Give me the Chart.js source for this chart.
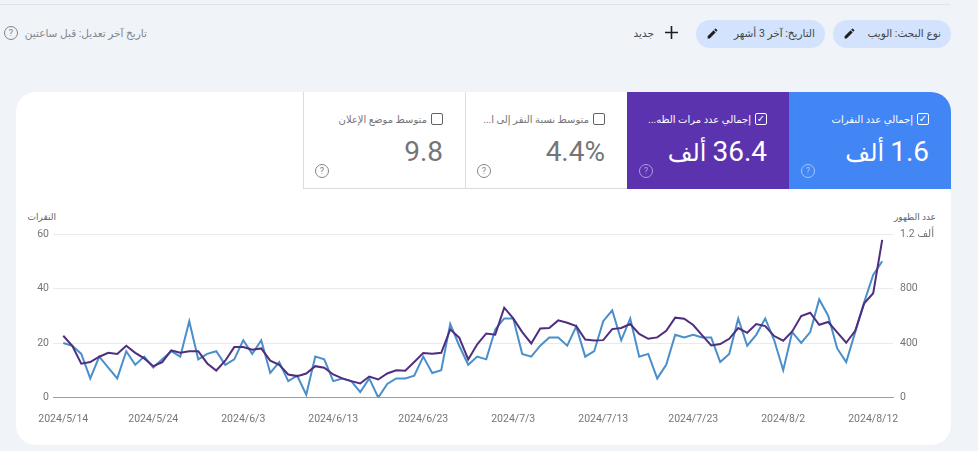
<!DOCTYPE html>
<html lang="ar">
<head>
<meta charset="utf-8">
<title>Search Console</title>
<script src="https://cdn.jsdelivr.net/npm/chart.js@4"></script>
<style>
    html, body { margin: 0; padding: 0; width: 978px; height: 451px; overflow: hidden; background: #f0f3f8; font-family: Roboto, "DejaVu Sans", sans-serif; }
    .abs { position: absolute; white-space: nowrap; }
    .rtl { direction: rtl; text-align: right; }
    #topline { left: 0; top: 4px; width: 950px; height: 1px; background: #dfe2e7; }
    #panel { left: 16px; top: 92px; width: 935px; height: 353px; background: #fff; border-radius: 20px; }
    .chip { top: 20px; height: 28px; background: #d3e3fd; border-radius: 14px; }
    .chipText { top: 26px; font-size: 10.5px; line-height: 15px; color: #444746; }
    .card { top: 92px; height: 97px; box-sizing: border-box; }
    .cardLabel { top: 112px; font-size: 10px; line-height: 15px; }
    .cardValue { top: 134px; font-size: 28px; line-height: 36px; }
    .cardValue span { font-size: 24px; }
    .check { top: 113px; width: 12px; height: 12px; box-sizing: border-box; border-radius: 2px; }
    .help { width: 14px; height: 14px; box-sizing: border-box; border-radius: 50%; border: 1.2px solid; font-size: 9px; line-height: 12px; text-align: center; }
    .axisTitle { top: 211px; font-size: 9px; line-height: 13px; color: #5f6368; }
    #wrap { left: 0; top: 200px; width: 978px; height: 240px; }
</style>
</head>
<body>
<div class="abs" id="topline"></div>

<div class="abs help" style="left:4px;top:26px;color:#80868b">?</div>
<div class="abs rtl" style="right:831px;top:26px;font-size:10.5px;line-height:15px;color:#80868b">تاريخ آخر تعديل: قبل ساعتين</div>

<div class="abs chip" style="left:833px;width:118px"></div>
<div class="abs chipText rtl" style="right:37px">نوع البحث: الويب</div>
<svg class="abs" style="left:843px;top:27px" width="13" height="13" viewBox="0 0 24 24"><path fill="#1f1f1f" d="M3 17.25V21h3.75L17.8 9.94l-3.75-3.75L3 17.25zM20.7 7.04a1 1 0 0 0 0-1.41l-2.34-2.34a1 1 0 0 0-1.41 0l-1.83 1.83 3.75 3.75 1.83-1.83z"/></svg>
<div class="abs chip" style="left:696px;width:129px"></div>
<div class="abs chipText rtl" style="right:163px">التاريخ: آخر 3 أشهر</div>
<svg class="abs" style="left:706px;top:27px" width="13" height="13" viewBox="0 0 24 24"><path fill="#1f1f1f" d="M3 17.25V21h3.75L17.8 9.94l-3.75-3.75L3 17.25zM20.7 7.04a1 1 0 0 0 0-1.41l-2.34-2.34a1 1 0 0 0-1.41 0l-1.83 1.83 3.75 3.75 1.83-1.83z"/></svg>
<svg class="abs" style="left:664px;top:25px" width="15" height="15" viewBox="0 0 15 15"><path stroke="#1f1f1f" stroke-width="1.6" d="M7.5 1v13M1 7.5h13"/></svg>
<div class="abs chipText rtl" style="right:324px">جديد</div>

<div class="abs" id="panel"></div>

<div class="abs card" style="left:789px;width:162px;background:#4285f4;border-top-right-radius:20px"></div>
<div class="abs card" style="left:627px;width:162px;background:#5b33ae"></div>
<div class="abs card" style="left:465px;width:162px;border:1px solid #dadce0;border-right:none;border-top:none"></div>
<div class="abs card" style="left:303px;width:163px;border:1px solid #dadce0;border-top:none"></div>

<div class="abs check" style="left:917px;border:1.4px solid #fff;color:#fff;font-size:10px;line-height:9px;text-align:center">✓</div>
<div class="abs cardLabel rtl" style="right:65px;color:#fff">إجمالي عدد النقرات</div>
<div class="abs cardValue rtl" style="right:49px;color:#fff" id="v1"></div>
<div class="abs help" style="left:801px;top:164px;color:#a9c7fa">?</div>

<div class="abs check" style="left:755px;border:1.4px solid #fff;color:#fff;font-size:10px;line-height:9px;text-align:center">✓</div>
<div class="abs cardLabel rtl" style="right:227px;color:#fff">إجمالي عدد مرات الظه...</div>
<div class="abs cardValue rtl" style="right:211px;color:#fff" id="v2"></div>
<div class="abs help" style="left:639px;top:164px;color:#b39ddb">?</div>

<div class="abs check" style="left:593px;border:1.2px solid #5f6368"></div>
<div class="abs cardLabel rtl" style="right:389px;color:#757575">متوسط نسبة النقر إلى ا...</div>
<div class="abs cardValue rtl" style="right:373px;color:#757575" id="v3"></div>
<div class="abs help" style="left:477px;top:164px;color:#80868b">?</div>

<div class="abs check" style="left:431px;border:1.2px solid #5f6368"></div>
<div class="abs cardLabel rtl" style="right:551px;color:#757575">متوسط موضع الإعلان</div>
<div class="abs cardValue rtl" style="right:535px;color:#757575" id="v4"></div>
<div class="abs help" style="left:315px;top:164px;color:#80868b">?</div>

<div class="abs axisTitle rtl" style="right:922px">النقرات</div>
<div class="abs axisTitle rtl" style="right:42px">عدد الظهور</div>

<div class="abs" id="wrap"><canvas id="grafica" width="978" height="240"></canvas></div>

<script>
const tarjetas = ['1.6', '36.4', '4.4%', '9.8'];
const unidades = ['ألف', 'ألف', '', ''];

const fechas = ['2024/5/14', '2024/5/24', '2024/6/3', '2024/6/13', '2024/6/23', '2024/7/3', '2024/7/13', '2024/7/23', '2024/8/2', '2024/8/12'];
const ticksIzquierda = [0, 20, 40, 60];
const ticksDerecha = ['0', '400', '800', '1.2 ألف'];

const clics = [20, 19, 16, 7, 15, 11, 7, 17, 12, 15, 11, 14, 17, 15, 28, 14, 16, 17, 12, 14, 21, 16, 21, 9, 13, 6, 8, 1, 15, 14,
    6, 7, 6, 2, 7, 0, 5, 7, 7, 8, 15, 9, 10, 27, 19, 12, 15, 14, 25, 29, 29, 16, 15, 19, 22, 22, 19, 26, 15, 17,
    28, 32, 21, 29, 15, 16, 7, 12, 23, 22, 23, 22, 22, 13, 16, 29, 19, 23, 29, 21, 10, 24, 20, 24, 36, 30, 18, 13, 24, 35,
    45, 50];
const impresiones = [453, 380, 248, 260, 299, 328, 319, 380, 328, 287, 230, 260, 345, 328, 340, 340, 250, 198, 270, 370, 370, 350, 360, 270, 240, 169, 157, 176, 230, 218,
    169, 140, 120, 103, 154, 132, 176, 200, 196, 260, 326, 321, 328, 500, 439, 279, 390, 470, 461, 659, 581, 480, 397, 507, 510, 566, 549, 524, 426, 419,
    421, 502, 510, 539, 466, 431, 441, 490, 586, 578, 532, 456, 382, 392, 431, 510, 475, 539, 524, 451, 417, 485, 598, 622, 534, 554, 478, 402, 490, 691,
    765, 1157];

const Vista = {
    mostrarTarjetas: function () {
        tarjetas.forEach((texto, i) => {
            const caja = document.getElementById('v' + (i + 1));
            const bdi = document.createElement('bdi');
            bdi.textContent = texto;
            caja.appendChild(bdi);
            if (unidades[i]) {
                const unidad = document.createElement('span');
                unidad.textContent = ' ' + unidades[i];
                caja.appendChild(unidad);
            }
        });
    },

    mostrarGrafica: function () {
        const canvas = document.getElementById('grafica');
        const fuente = { family: 'Roboto, "DejaVu Sans", sans-serif', size: 10.5 };

        new Chart(canvas, {
            type: 'line',
            data: {
                datasets: [{
                    label: 'عدد الظهور',
                    data: impresiones.map((v, i) => ({ x: i, y: v })),
                    yAxisID: 'yDerecha',
                    borderColor: '#4f2d7f',
                    borderWidth: 2,
                    pointRadius: 0,
                    tension: 0,
                    order: 1
                }, {
                    label: 'النقرات',
                    data: clics.map((v, i) => ({ x: i, y: v })),
                    yAxisID: 'yIzquierda',
                    borderColor: '#4a8fc9',
                    borderWidth: 2,
                    pointRadius: 0,
                    tension: 0,
                    order: 2
                }]
            },
            options: {
                responsive: false,
                animation: false,
                layout: { padding: { top: 34 } },
                plugins: { legend: { display: false }, tooltip: { enabled: false } },
                scales: {
                    x: {
                        type: 'linear',
                        min: -1.14,
                        max: 92.2,
                        grid: { display: false },
                        border: { color: '#9aa0a6' },
                        afterBuildTicks: function (eje) {
                            eje.ticks = fechas.map((f, i) => ({ value: i * 10 }));
                        },
                        afterFit: function (eje) { eje.height = 42.5; },
                        ticks: {
                            autoSkip: false,
                            maxRotation: 0,
                            padding: 8,
                            color: '#757575',
                            font: fuente,
                            callback: function (valor) { return fechas[valor / 10]; }
                        }
                    },
                    yIzquierda: {
                        position: 'left',
                        min: 0,
                        max: 60,
                        afterFit: function (eje) { eje.width = 53; },
                        afterBuildTicks: function (eje) {
                            eje.ticks = ticksIzquierda.map(v => ({ value: v }));
                        },
                        grid: { color: '#e8eaed', drawTicks: false },
                        border: { display: false },
                        ticks: { padding: 4, color: '#757575', font: fuente }
                    },
                    yDerecha: {
                        position: 'right',
                        min: 0,
                        max: 1200,
                        afterFit: function (eje) { eje.width = 85; },
                        afterBuildTicks: function (eje) {
                            eje.ticks = ticksDerecha.map((t, i) => ({ value: i * 400 }));
                        },
                        grid: { drawOnChartArea: false, drawTicks: false },
                        border: { display: false },
                        ticks: {
                            padding: 7,
                            color: '#757575',
                            font: fuente,
                            callback: function (valor) { return ticksDerecha[valor / 400]; }
                        }
                    }
                }
            }
        });
    }
}

document.addEventListener('DOMContentLoaded', function () {
    Vista.mostrarTarjetas();
    Vista.mostrarGrafica();
})
</script>
</body>
</html>
